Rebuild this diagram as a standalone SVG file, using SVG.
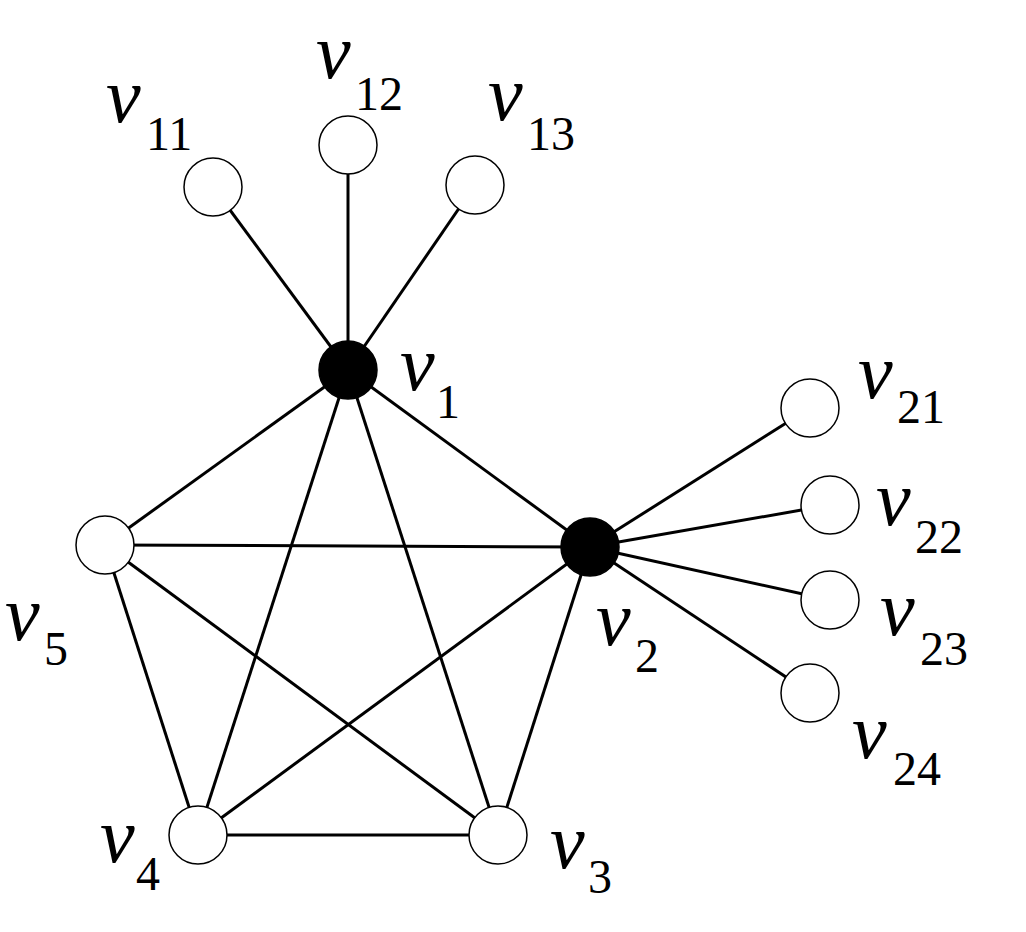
<svg xmlns="http://www.w3.org/2000/svg" width="1026" height="932" viewBox="0 0 1026 932">
<style>
.e{stroke:#000;stroke-width:3;fill:none}
.n{fill:#fff;stroke:#000;stroke-width:1.5}
.b{fill:#000;stroke:#000;stroke-width:1.5}
.v{font-family:'Liberation Serif','Times New Roman',serif;font-style:italic;font-size:78px}
.s{font-family:'Liberation Serif','Times New Roman',serif;font-size:48px}
</style>
<rect width="1026" height="932" fill="#fff"/>
<g id="connectors" class="e">
<line x1="348" y1="370" x2="213" y2="187"/>
<line x1="348" y1="370" x2="348" y2="145"/>
<line x1="348" y1="370" x2="475" y2="185"/>
<line x1="348" y1="370" x2="590" y2="547"/>
<line x1="348" y1="370" x2="105" y2="545"/>
<line x1="348" y1="370" x2="198" y2="835"/>
<line x1="348" y1="370" x2="498" y2="835"/>
<line x1="590" y1="547" x2="105" y2="545"/>
<line x1="590" y1="547" x2="198" y2="835"/>
<line x1="590" y1="547" x2="498" y2="835"/>
<line x1="590" y1="547" x2="810" y2="408"/>
<line x1="590" y1="547" x2="830" y2="505"/>
<line x1="590" y1="547" x2="830" y2="600"/>
<line x1="590" y1="547" x2="810" y2="693"/>
<line x1="105" y1="545" x2="198" y2="835"/>
<line x1="105" y1="545" x2="498" y2="835"/>
<line x1="198" y1="835" x2="498" y2="835"/>
</g>
<g id="v11"><circle class="n" cx="213" cy="187" r="29"/><text class="v" x="106" y="122">v</text><text class="s" x="146" y="150">11</text></g>
<g id="v12"><circle class="n" cx="348" cy="145" r="29"/><text class="v" x="316" y="78">v</text><text class="s" x="355" y="110">12</text></g>
<g id="v13"><circle class="n" cx="475" cy="185" r="29"/><text class="v" x="488" y="120">v</text><text class="s" x="527" y="150">13</text></g>
<g id="v1"><circle class="b" cx="348" cy="370" r="29"/><text class="v" x="400" y="390">v</text><text class="s" x="436" y="418">1</text></g>
<g id="v2"><circle class="b" cx="590" cy="547" r="29"/><text class="v" x="596" y="645">v</text><text class="s" x="635" y="672">2</text></g>
<g id="v3"><circle class="n" cx="498" cy="835" r="29"/><text class="v" x="550" y="868">v</text><text class="s" x="588" y="893">3</text></g>
<g id="v4"><circle class="n" cx="198" cy="835" r="29"/><text class="v" x="100" y="862">v</text><text class="s" x="136" y="890">4</text></g>
<g id="v5"><circle class="n" cx="105" cy="545" r="29"/><text class="v" x="5" y="640">v</text><text class="s" x="44" y="665">5</text></g>
<g id="v21"><circle class="n" cx="810" cy="408" r="29"/><text class="v" x="858" y="398">v</text><text class="s" x="897" y="423">21</text></g>
<g id="v22"><circle class="n" cx="830" cy="505" r="29"/><text class="v" x="876" y="525">v</text><text class="s" x="915" y="553">22</text></g>
<g id="v23"><circle class="n" cx="830" cy="600" r="29"/><text class="v" x="880" y="635">v</text><text class="s" x="920" y="665">23</text></g>
<g id="v24"><circle class="n" cx="810" cy="693" r="29"/><text class="v" x="852" y="758">v</text><text class="s" x="893" y="785">24</text></g>
</svg>
